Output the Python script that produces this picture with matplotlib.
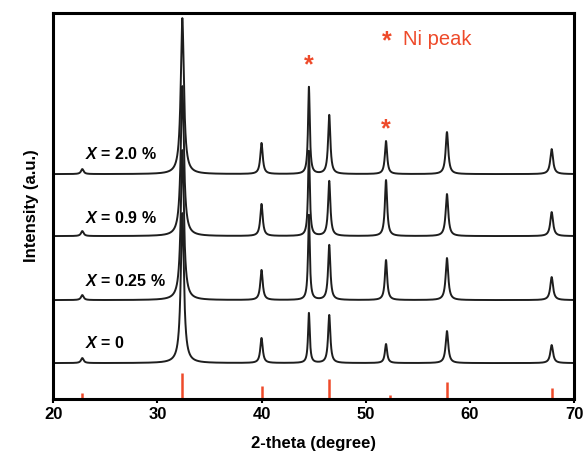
import numpy as np
import matplotlib
matplotlib.use('Agg')
import matplotlib.pyplot as plt

plt.rcParams['font.family'] = ['Liberation Sans', 'DejaVu Sans']
plt.rcParams['mathtext.fontset'] = 'custom'
plt.rcParams['mathtext.it'] = 'Liberation Sans:bold:italic'

# peak positions (2-theta, degree) and widths (HWHM)
peak_pos = [22.8, 32.4, 40.0, 44.55, 46.5, 51.95, 57.8, 67.85]
peak_hwhm = [0.15, 0.18, 0.14, 0.10, 0.13, 0.13, 0.15, 0.16]

# peak heights above each baseline (arbitrary units)
samples = ['X = 0', 'X = 0.25 %', 'X = 0.9 %', 'X = 2.0 %']
baselines = [36, 99, 163, 225]
heights = {
    'X = 0':      [5, 150, 25, 50, 48, 19, 32, 18],
    'X = 0.25 %': [5, 150, 30, 85, 55, 40, 42, 23],
    'X = 0.9 %':  [5, 150, 32, 85, 55, 56, 42, 24],
    'X = 2.0 %':  [5, 156, 31, 87, 59, 33, 42, 25],
}
label_y = [56, 118, 181, 245]

# reference pattern (red sticks)
ref_pos = [22.8, 32.4, 40.0, 46.5, 52.35, 57.8, 67.9]
ref_int = [6, 26, 13, 20, 4, 17, 11]

# Ni peaks marked with *
ni_pos = [44.55, 51.95]
ni_y = [334, 270]

red = '#ee4a2a'


def pattern(x, pos, hw, h):
    y = np.zeros_like(x)
    for p, w, a in zip(pos, hw, h):
        y += a / (1 + ((x - p) / w) ** 2)
    return y


def main():
    fig = plt.figure(figsize=(5.84, 4.53), dpi=100)
    ax = fig.add_axes([0.091, 0.119, 0.892, 0.852])

    tt = np.linspace(20, 70, 5001)
    for s, b, ly in zip(samples, baselines, label_y):
        ax.plot(tt, b + pattern(tt, peak_pos, peak_hwhm, heights[s]),
                color='#1e1e1e', lw=1.4)
        name = s.split(' ', 1)[1]
        ax.text(23.1, ly, r'$X$' + ' ' + name,
                fontsize=11.5, fontweight='bold', va='center', ha='left')

    ax.vlines(ref_pos, 0, ref_int, colors=red, lw=1.8)

    for p, y in zip(ni_pos, ni_y):
        ax.text(p, y, '*', color=red, fontsize=18, fontweight='bold',
                ha='center', va='center')
    ax.text(52.0, 358, '*', color=red, fontsize=18, fontweight='bold',
            ha='center', va='center')
    ax.text(53.6, 360, 'Ni peak', color=red, fontsize=14.5,
            ha='left', va='center')

    ax.set_xlim(20, 70)
    ax.set_ylim(0, 386)
    ax.set_xticks([20, 30, 40, 50, 60, 70])
    ax.set_yticks([])
    ax.tick_params(axis='x', direction='out', length=3, width=1.5,
                   labelsize=12, pad=3)
    for lab in ax.get_xticklabels():
        lab.set_fontweight('bold')
    for sp in ax.spines.values():
        sp.set_linewidth(2.2)
    ax.set_xlabel('2-theta (degree)', fontsize=12, fontweight='bold',
                  labelpad=10)
    ax.set_ylabel('Intensity (a.u.)', fontsize=12, fontweight='bold',
                  labelpad=10)

    fig.savefig('out.png', dpi=100)


if __name__ == '__main__':
    main()
